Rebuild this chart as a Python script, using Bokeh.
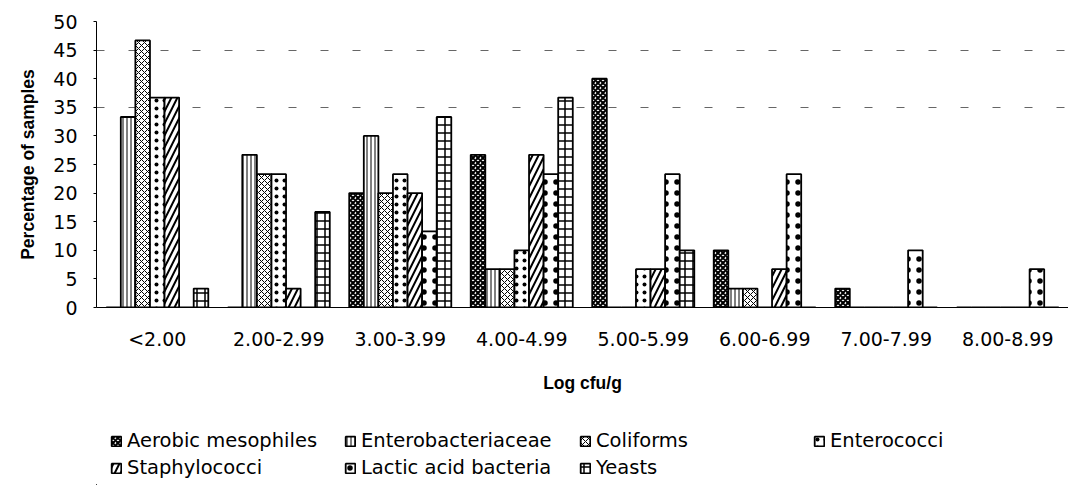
from bokeh.plotting import figure
from bokeh.layouts import column
from bokeh.models import (ColumnDataSource, FactorRange, Range1d, FixedTicker,
                          Legend, LegendItem)
from bokeh.transform import dodge
from bokeh.embed import file_html
from bokeh.resources import INLINE

categories = ["<2.00", "2.00-2.99", "3.00-3.99", "4.00-4.99",
              "5.00-5.99", "6.00-6.99", "7.00-7.99", "8.00-8.99"]
series_names = ["Aerobic mesophiles", "Enterobacteriaceae", "Coliforms",
                "Enterococci", "Staphylococci", "Lactic acid bacteria", "Yeasts"]
aerobic = [0, 0, 20.0, 26.7, 40.0, 10.0, 3.3, 0]
enterobacteriaceae = [33.3, 26.7, 30.0, 6.7, 0, 3.3, 0, 0]
coliforms = [46.7, 23.3, 20.0, 6.7, 0, 3.3, 0, 0]
enterococci = [36.7, 23.3, 23.3, 10.0, 6.7, 0, 0, 0]
staphylococci = [36.7, 3.3, 20.0, 26.7, 6.7, 6.7, 0, 0]
lactic = [0, 0, 13.3, 23.3, 23.3, 23.3, 10.0, 6.7]
yeasts = [3.3, 16.7, 33.3, 36.7, 10.0, 0, 0, 0]
y_ticks = [0, 5, 10, 15, 20, 25, 30, 35, 40, 45, 50]

cols = ["aer", "ent", "col", "enc", "sta", "lab", "yea"]
source = ColumnDataSource(dict(cat=categories, aer=aerobic, ent=enterobacteriaceae,
                               col=coliforms, enc=enterococci, sta=staphylococci,
                               lab=lactic, yea=yeasts))

FONT = "DejaVu Sans"
TFONT = "Liberation Sans"

p = figure(x_range=FactorRange(*categories, range_padding=0),
           y_range=Range1d(0, 50),
           width=1068, height=400, output_backend="svg", toolbar_location=None,
           min_border_left=96, min_border_right=0, min_border_top=21,
           min_border_bottom=93)
p.outline_line_color = None
p.background_fill_color = "white"
p.border_fill_color = "white"

hatches = [
    dict(hatch_pattern="x", hatch_scale=5, hatch_weight=2.0),
    dict(hatch_pattern="|", hatch_scale=4, hatch_weight=1.0),
    dict(hatch_pattern="x", hatch_scale=6, hatch_weight=1.0),
    dict(hatch_pattern=".", hatch_scale=8, hatch_weight=1.0),
    dict(hatch_pattern="/", hatch_scale=12, hatch_weight=2.0),
    dict(hatch_pattern=".", hatch_scale=11, hatch_weight=1.0),
    dict(hatch_pattern="+", hatch_scale=8, hatch_weight=1.5),
]
style = dict(fill_color="white", line_color="black", line_width=1.8,
             hatch_color="black")

bw = 0.12
for i, (c, h) in enumerate(zip(cols, hatches)):
    p.vbar(x=dodge("cat", (i - 3) * bw, range=p.x_range), top=c, width=bw,
           source=source, **style, **h)

# axes
p.yaxis.ticker = FixedTicker(ticks=y_ticks)
p.yaxis.axis_label = "Percentage of samples"
p.yaxis.axis_label_text_font = TFONT
p.yaxis.axis_label_text_font_style = "bold"
p.yaxis.axis_label_text_font_size = "17.5px"
p.yaxis.axis_label_text_color = "black"
p.yaxis.axis_label_standoff = 12
p.yaxis.major_label_text_font = FONT
p.yaxis.major_label_text_font_size = "19px"
p.yaxis.major_label_text_color = "black"
p.yaxis.major_tick_out = 3
p.yaxis.major_tick_in = 0
p.yaxis.minor_tick_line_color = None
p.yaxis.major_label_standoff = 16
p.yaxis.axis_line_color = "black"

p.xaxis.axis_label = "Log cfu/g"
p.xaxis.axis_label_text_font = TFONT
p.xaxis.axis_label_text_font_style = "bold"
p.xaxis.axis_label_text_font_size = "17.5px"
p.xaxis.axis_label_text_color = "black"
p.xaxis.axis_label_standoff = 20
p.xaxis.major_label_text_font = FONT
p.xaxis.major_label_text_font_size = "19px"
p.xaxis.major_label_text_color = "black"
p.xaxis.major_tick_line_color = None
p.xaxis.major_label_standoff = 14
p.xaxis.axis_line_color = "black"

p.xgrid.grid_line_color = None
p.ygrid.ticker = FixedTicker(ticks=[35, 45])
p.ygrid.grid_line_color = "#666666"
p.ygrid.grid_line_dash = "8 24"
p.ygrid.grid_line_width = 1

# legend strip under the chart (its frame is aligned with the chart's frame)
leg = figure(width=1068, height=85, x_range=Range1d(0, 1), y_range=Range1d(0, 1),
             output_backend="svg", toolbar_location=None, min_border=0,
             min_border_left=96, min_border_right=0,
             x_axis_location=None, y_axis_location=None)
leg.outline_line_color = None
leg.grid.visible = False

frame_left = 96
positions = [(110, 33), (344, 33), (579, 33), (813, 33),
             (110, 6), (344, 6), (579, 6)]
for name, h, (px, py) in zip(series_names, hatches, positions):
    r = leg.vbar(x=[-10], top=[-5], bottom=[-6], width=0.1, **style, **h)
    lg = Legend(items=[LegendItem(label=name, renderers=[r])],
                location=(px - frame_left, py),
                padding=0, margin=0, border_line_color=None,
                background_fill_alpha=0, glyph_width=12, glyph_height=12,
                label_standoff=5, label_text_font=FONT,
                label_text_color="black",
                label_text_font_size="19.5px", label_height=20)
    leg.add_layout(lg, "center")

layout = column(p, leg, spacing=0)
open("out.html", "w").write(file_html(layout, INLINE))
